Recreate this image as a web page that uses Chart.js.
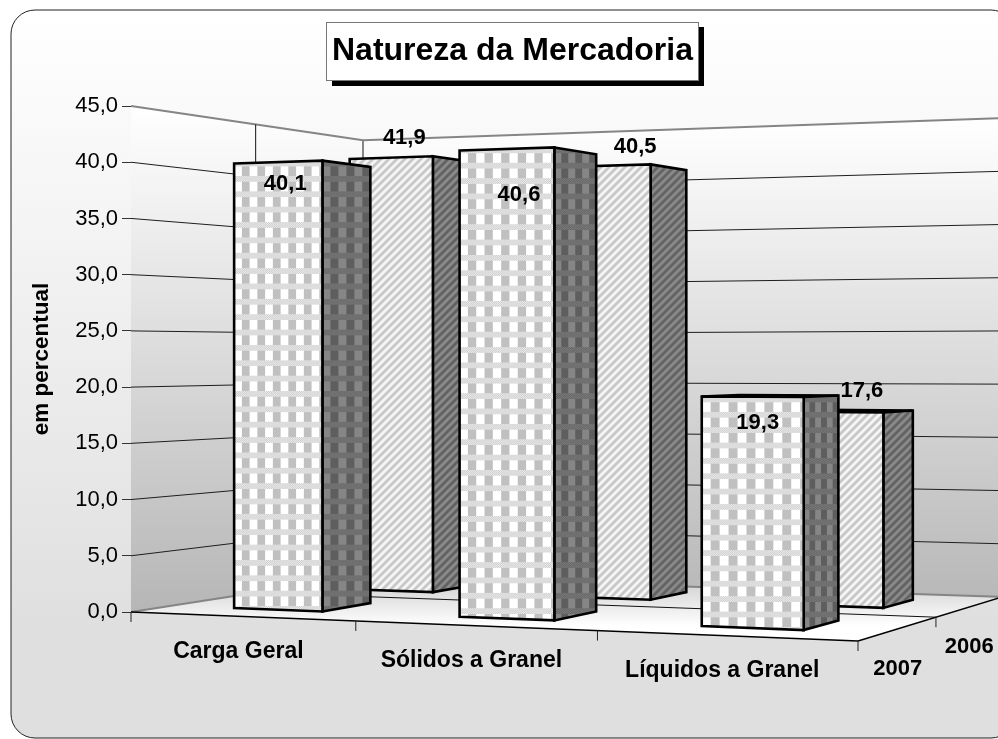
<!DOCTYPE html>
<html lang="pt">
<head>
<meta charset="utf-8">
<title>Natureza da Mercadoria</title>
<script src="https://cdn.jsdelivr.net/npm/chart.js@4"></script>
<style>
html, body { margin: 0; padding: 0; background: #fff; }
canvas { display: block; }
</style>
</head>
<body>
<canvas id="grafico" width="998" height="739"></canvas>
<script>
const categorias = ['Carga Geral', 'Sólidos a Granel', 'Líquidos a Granel'];
const anos = ['2007', '2006'];
const valores2007 = [40.1, 40.6, 19.3];
const valores2006 = [41.9, 40.5, 17.6];
const ticksY = [0, 5, 10, 15, 20, 25, 30, 35, 40, 45];

// deslocamento dos rótulos em relação ao topo da face frontal
const ajusteRotulos = [
    [[7, 22], [12, 46], [5, 26]],
    [[13, -20], [29, -19], [26, -21]]
];

const FONTE = '"Liberation Sans", Arial, sans-serif';
const virgula = v => v.toFixed(1).replace('.', ',');

// cantos do piso na tela: frente-esq, frente-dir, fundo-dir, fundo-esq
const piso = [[131, 612], [858, 641], [1002, 597], [363, 576]];
const larguraBarra = 0.40;
const fundoBarra = 0.415;

function criarHomografia(q) {
    const [p0, p1, p2, p3] = q;
    const sx = p0[0] - p1[0] + p2[0] - p3[0], sy = p0[1] - p1[1] + p2[1] - p3[1];
    const dx1 = p1[0] - p2[0], dx2 = p3[0] - p2[0], dy1 = p1[1] - p2[1], dy2 = p3[1] - p2[1];
    const det = dx1 * dy2 - dx2 * dy1;
    const g = (sx * dy2 - dx2 * sy) / det, h = (dx1 * sy - sx * dy1) / det;
    const a = p1[0] - p0[0] + g * p1[0], b = p3[0] - p0[0] + h * p3[0];
    const d = p1[1] - p0[1] + g * p1[1], e = p3[1] - p0[1] + h * p3[1];
    return (u, w) => {
        const W = g * u + h * w + 1;
        return { x: (a * u + b * w + p0[0]) / W, y: (d * u + e * w + p0[1]) / W, W };
    };
}
const noPiso = criarHomografia(piso);

// u: largura, w: profundidade, py: pixel da escala Y na aresta frontal esquerda
function projetar(chart, u, w, py) {
    const p = noPiso(u, w);
    return [p.x, p.y - (chart.scales.y.bottom - py) / p.W];
}

function poligono(ctx, pts, fill, stroke, lw) {
    ctx.beginPath();
    pts.forEach((p, i) => i ? ctx.lineTo(p[0], p[1]) : ctx.moveTo(p[0], p[1]));
    ctx.closePath();
    if (fill) { ctx.fillStyle = fill; ctx.fill(); }
    if (stroke) { ctx.strokeStyle = stroke; ctx.lineWidth = lw; ctx.stroke(); }
}

function linha(ctx, a, b, cor, lw) {
    ctx.beginPath();
    ctx.moveTo(a[0], a[1]);
    ctx.lineTo(b[0], b[1]);
    ctx.strokeStyle = cor;
    ctx.lineWidth = lw;
    ctx.stroke();
}

// padrões das barras
function padraoXadrez(claro, medio, banda1, banda2) {
    const c = document.createElement('canvas');
    c.width = c.height = 16;
    const g = c.getContext('2d');
    for (let y = 0; y < 16; y++) {
        for (let x = 0; x < 16; x++) {
            if (y < 6) g.fillStyle = (x + y) % 2 ? banda1 : banda2;
            else g.fillStyle = x < 8 ? claro : medio;
            g.fillRect(x, y, 1, 1);
        }
    }
    return c;
}
function padraoListras(claro, escuro, meio) {
    const c = document.createElement('canvas');
    c.width = c.height = 8;
    const g = c.getContext('2d');
    for (let y = 0; y < 8; y++) {
        for (let x = 0; x < 8; x++) {
            const k = (x + y) % 8;
            g.fillStyle = k < 3 ? escuro : (k === 3 || k === 7 ? meio : claro);
            g.fillRect(x, y, 1, 1);
        }
    }
    return c;
}
const tiles = {
    frente2007: padraoXadrez('#ffffff', '#c0c0c0', '#cdcdcd', '#ececec'),
    lado2007: padraoXadrez('#868686', '#5e5e5e', '#646464', '#7c7c7c'),
    frente2006: padraoListras('#f8f8f8', '#c4c4c4', '#e0e0e0'),
    lado2006: padraoListras('#8c8c8c', '#606060', '#767676')
};

function preencher(ctx, tile, x0, y0, sx, sy) {
    const p = ctx.createPattern(tile, 'repeat');
    p.setTransform(new DOMMatrix([sx, 0, 0, sy, x0, y0]));
    return p;
}

function desenharCena(chart) {
    const ctx = chart.ctx, esc = chart.scales.y;
    const topoPx = esc.getPixelForValue(45);
    const basePx = esc.getPixelForValue(0);

    // paredes
    const e0 = projetar(chart, 0, 0, topoPx), e1 = projetar(chart, 0, 1, topoPx);
    const d1 = projetar(chart, 1, 1, topoPx);
    const b00 = projetar(chart, 0, 0, basePx), b01 = projetar(chart, 0, 1, basePx);
    const b11 = projetar(chart, 1, 1, basePx), b10 = projetar(chart, 1, 0, basePx);

    let grad = ctx.createLinearGradient(0, e0[1], 0, b00[1]);
    grad.addColorStop(0, '#ffffff');
    grad.addColorStop(1, '#b6b6b6');
    poligono(ctx, [e0, e1, b01, b00], grad);

    grad = ctx.createLinearGradient(0, d1[1], 0, b11[1]);
    grad.addColorStop(0, '#ffffff');
    grad.addColorStop(1, '#b8b8b8');
    poligono(ctx, [e1, d1, b11, b01], grad);

    // piso
    grad = ctx.createLinearGradient(0, b01[1], 0, 626);
    grad.addColorStop(0, '#cccccc');
    grad.addColorStop(1, '#ffffff');
    poligono(ctx, [b00, b01, b11, b10], grad);

    // grade
    esc.ticks.forEach(t => {
        const py = esc.getPixelForValue(t.value);
        const a = projetar(chart, 0, 0, py), b = projetar(chart, 0, 1, py), c = projetar(chart, 1, 1, py);
        const borda = t.value === 0 || t.value === 45;
        linha(ctx, a, b, borda ? '#858585' : '#1e1e1e', borda ? 2 : 1);
        linha(ctx, b, c, borda ? '#858585' : '#1e1e1e', borda ? 2 : 1);
    });
    linha(ctx, e1, b01, '#858585', 2);
    linha(ctx, projetar(chart, 0, 0.5, topoPx), projetar(chart, 0, 0.5, basePx), '#111', 1);
    linha(ctx, projetar(chart, 0, 0.5, basePx), projetar(chart, 1, 0.5, basePx), '#111', 1);

    // arestas do piso e marcas
    linha(ctx, b00, b10, '#000', 1.4);
    linha(ctx, b10, b11, '#000', 1.4);
    categorias.concat(['']).forEach((_, i) => {
        const p = noPiso(i / categorias.length, 0);
        linha(ctx, [p.x, p.y], [p.x, p.y + 10], '#222', 1);
    });
    const meio = noPiso(1, 0.5);
    linha(ctx, [meio.x, meio.y], [meio.x, meio.y + 10], '#222', 1);

    // barras: 2006 (fundo) e depois 2007
    const area = chart.chartArea;
    const rotulos = [];
    [1, 0].forEach(serie => {
        const meta = chart.getDatasetMeta(serie);
        const w0 = (serie + 0.5) / 2 - fundoBarra / 4, w1 = (serie + 0.5) / 2 + fundoBarra / 4;
        meta.data.forEach((el, j) => {
            const u0 = (el.x - el.width / 2 - area.left) / area.width;
            const u1 = (el.x + el.width / 2 - area.left) / area.width;
            const ft0 = projetar(chart, u0, w0, el.y), ft1 = projetar(chart, u1, w0, el.y);
            const fb0 = projetar(chart, u0, w0, el.base), fb1 = projetar(chart, u1, w0, el.base);
            const tt0 = projetar(chart, u0, w1, el.y), tt1 = projetar(chart, u1, w1, el.y);
            const tb1 = projetar(chart, u1, w1, el.base);

            ctx.save();
            ctx.lineJoin = 'miter';
            if (tt1[1] < ft1[1]) poligono(ctx, [ft0, ft1, tt1, tt0], '#e8e8e8', '#000', 2.6);
            const ladoL = tt1[0] - ft1[0], frenteL = ft1[0] - ft0[0];
            const topoY = Math.min(ft0[1], ft1[1]);
            const fPad = serie === 0
                ? preencher(ctx, tiles.frente2007, ft0[0], topoY, frenteL / (5.7 * 16), 0.96)
                : preencher(ctx, tiles.frente2006, ft0[0], topoY, 1, 1);
            const lPad = serie === 0
                ? preencher(ctx, tiles.lado2007, ft1[0], topoY, ladoL / (3 * 16), 0.96)
                : preencher(ctx, tiles.lado2006, ft1[0], topoY, 1, 1);
            poligono(ctx, [ft1, tt1, tb1, fb1], lPad, '#000', 2.6);
            poligono(ctx, [ft0, ft1, fb1, fb0], fPad, '#000', 2.6);
            ctx.restore();

            const aj = ajusteRotulos[serie][j];
            rotulos.push({
                x: (ft0[0] + ft1[0]) / 2 + aj[0],
                y: (ft0[1] + ft1[1]) / 2 + aj[1],
                t: virgula(chart.data.datasets[serie].data[j])
            });
        });
    });

    // textos
    ctx.save();
    ctx.fillStyle = '#000';
    ctx.textAlign = 'center';
    ctx.textBaseline = 'middle';
    ctx.font = 'bold 22px ' + FONTE;
    rotulos.forEach(r => ctx.fillText(r.t, r.x, r.y));
    ctx.font = 'bold 23px ' + FONTE;
    categorias.forEach((nome, i) => {
        const p = noPiso((i + 0.5) / categorias.length, 0);
        ctx.fillText(nome, p.x - 3, p.y + 35);
    });
    ctx.font = 'bold 22px ' + FONTE;
    anos.forEach((ano, i) => {
        const p = noPiso(1, (i + 0.5) / anos.length);
        ctx.fillText(ano, p.x - 1, p.y + 40);
    });
    ctx.restore();
}

const cenario3d = {
    id: 'cenario3d',
    afterLayout(chart) {
        // título um pouco à direita do centro, como no original
        chart.titleBlock.left = 27;
        chart.titleBlock.right = 998;
    },
    beforeDraw(chart) {
        const ctx = chart.ctx;
        ctx.save();
        const grad = ctx.createLinearGradient(0, 10, 0, 739);
        grad.addColorStop(0, '#ffffff');
        grad.addColorStop(0.85, '#dfdfdf');
        grad.addColorStop(1, '#dfdfdf');
        ctx.beginPath();
        ctx.roundRect(11, 10, 1004, 728, 24);
        ctx.fillStyle = grad;
        ctx.fill();
        ctx.strokeStyle = '#222';
        ctx.lineWidth = 1;
        ctx.stroke();
        // caixa do título
        ctx.fillStyle = '#000';
        ctx.fillRect(332, 27, 372, 59);
        ctx.fillStyle = '#fff';
        ctx.fillRect(326.5, 22.5, 372, 58);
        ctx.strokeStyle = '#777';
        ctx.strokeRect(326.5, 22.5, 372, 58);
        ctx.restore();
    },
    beforeDatasetsDraw(chart) {
        desenharCena(chart);
        return false; // as barras planas não são desenhadas
    }
};

new Chart(document.getElementById('grafico').getContext('2d'), {
    type: 'bar',
    data: {
        labels: categorias,
        datasets: [
            { label: anos[0], data: valores2007, backgroundColor: '#d8d8d8', grouped: false },
            { label: anos[1], data: valores2006, backgroundColor: '#c0c0c0', grouped: false }
        ]
    },
    options: {
        responsive: false,
        animation: false,
        layout: { padding: { left: 0, right: 140, top: 0, bottom: 127 } },
        categoryPercentage: larguraBarra,
        barPercentage: 1,
        plugins: {
            legend: { display: false },
            tooltip: { enabled: false },
            title: {
                display: true,
                text: 'Natureza da Mercadoria',
                color: '#000',
                font: { family: FONTE, size: 32, weight: 'bold', lineHeight: 1.2 },
                padding: { top: 32, bottom: 35.6 }
            }
        },
        scales: {
            x: { display: false },
            y: {
                min: 0,
                max: 45,
                afterBuildTicks: s => { s.ticks = ticksY.map(v => ({ value: v })); },
                afterFit: s => { s.width = 131; },
                grid: { drawOnChartArea: false, color: '#333', tickLength: 9 },
                border: { color: '#333' },
                ticks: {
                    color: '#000',
                    padding: 4,
                    font: { family: FONTE, size: 22 },
                    callback: v => virgula(v)
                },
                title: {
                    display: true,
                    text: 'em percentual',
                    color: '#000',
                    font: { family: FONTE, size: 22.5, weight: 'bold' },
                    padding: { top: 28, bottom: 0 }
                }
            }
        }
    },
    plugins: [cenario3d]
});
</script>
</body>
</html>
